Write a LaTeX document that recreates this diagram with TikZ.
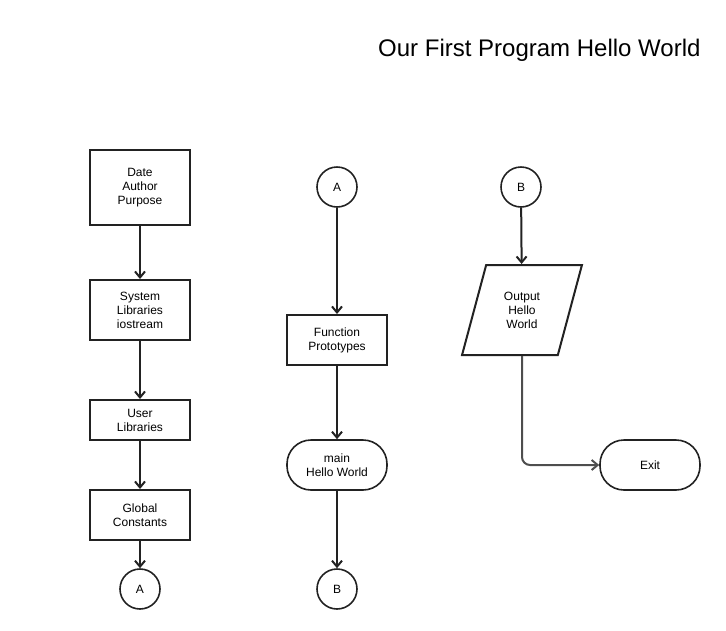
\documentclass[tikz,border=0pt]{standalone}
\usepackage{fontspec}
\setmainfont{Liberation Sans}
\usetikzlibrary{arrows.meta}
\usetikzlibrary{shapes.geometric}
\definecolor{edge}{HTML}{222222}

\begin{document}
\begin{tikzpicture}[x=1pt,y=-1pt,
		box/.style = {draw=edge, line width=2pt, rectangle, minimum width=100pt, align=center, font=\fontsize{12}{14}\selectfont},
		conn/.style = {draw=edge, line width=1.6pt, circle, minimum size=40pt, inner sep=0pt, font=\fontsize{12}{14}\selectfont},
		term/.style = {draw=edge, line width=1.6pt, rectangle, rounded corners=24pt, minimum width=100pt, minimum height=50pt, align=center, font=\fontsize{12}{14}\selectfont},
		flow/.style = {line width=2pt, edge, -{Straight Barb[length=6pt,width=10pt]}}]
	\useasboundingbox (0,0) rectangle (726,630);
	\node[anchor=east, font=\fontsize{24}{28}\selectfont] (title) at (704,50) {Our First Program Hello World};
	\begin{scope}[every node/.style={box}]
		\node[minimum height=75pt] (date) at (140,187.5) {Date\\Author\\Purpose};
		\node[minimum height=60pt] (syslib) at (140,310) {System\\Libraries\\iostream};
		\node[minimum height=40pt] (userlib) at (140,420) {User\\Libraries};
		\node[minimum height=50pt] (global) at (140,515) {Global\\Constants};
		\node[minimum height=50pt] (proto) at (337,340) {Function\\Prototypes};
	\end{scope}
	\node[conn] (A1) at (140,589) {A};
	\node[conn] (A2) at (337,187) {A};
	\node[term] (main) at (337,465) {main\\Hello World};
	\node[conn] (B1) at (337,589) {B};
	\node[conn] (B2) at (521,187) {B};
	\node[draw=edge, line width=2pt, trapezium, trapezium left angle=71.6, trapezium right angle=108.4, trapezium stretches=true, minimum width=120pt, minimum height=90pt, align=center, font=\fontsize{12}{14}\selectfont] (output) at (522,310) {Output\\Hello\\World};
	\node[term] (exit) at (650,465) {Exit};
	\draw [flow] (date) -- (syslib);
	\draw [flow] (syslib) -- (userlib);
	\draw [flow] (userlib) -- (global);
	\draw [flow] (global) -- (A1);
	\draw [flow] (A2) -- (proto);
	\draw [flow] (proto) -- (main);
	\draw [flow] (main) -- (B1);
	\draw [flow] (B2) -- (output);
	\draw [flow, draw=edge!80, rounded corners=8pt] (output.south) |- (exit.west);
\end{tikzpicture}
\end{document}
